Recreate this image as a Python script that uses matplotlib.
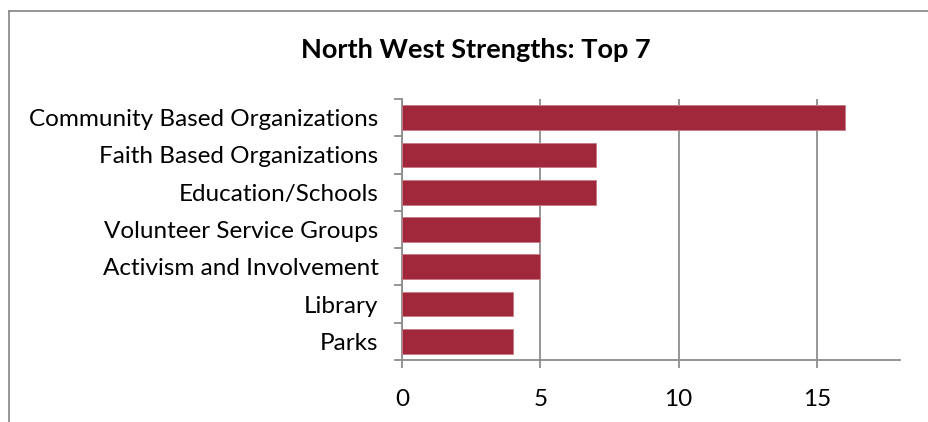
import matplotlib.pyplot as plt
from matplotlib.lines import Line2D

categories = ["Community Based Organizations", "Faith Based Organizations",
              "Education/Schools", "Volunteer Service Groups",
              "Activism and Involvement", "Library", "Parks"]
counts = [16, 7, 7, 5, 5, 4, 4]
xticks = [0, 5, 10, 15]

plt.rcParams['font.family'] = ['Lato', 'DejaVu Sans']

W, H = 929, 422
fig = plt.figure(figsize=(W / 100, H / 100), dpi=100)
ax = fig.add_axes([402 / W, 1 - 360 / H, (900 - 402) / W, (360 - 99) / H])

grey = '#8c8c8c'
ypos = list(range(len(categories)))[::-1]
ax.barh(ypos, counts, height=0.66, color='#A0283A', edgecolor='#c67b86',
        linewidth=0.6, zorder=3)

ax.set_xlim(0, 18)
ax.set_ylim(-0.5, len(categories) - 0.5)
ax.set_xticks(xticks)
ax.set_xticklabels([str(t) for t in xticks], fontsize=17.5)
ax.set_yticks(ypos)
ax.set_yticklabels(categories, fontsize=17.5)
ax.set_yticks([y - 0.5 for y in range(len(categories) + 1)], minor=True)

ax.xaxis.grid(True, color=grey, linewidth=1.3, zorder=0)
ax.tick_params(axis='y', which='major', length=0, pad=17)
ax.tick_params(axis='y', which='minor', length=6, width=1.3, color=grey)
ax.tick_params(axis='x', length=6, width=1.3, color=grey, pad=15)

for side in ['top', 'right']:
    ax.spines[side].set_visible(False)
for side in ['left', 'bottom']:
    ax.spines[side].set_color(grey)
    ax.spines[side].set_linewidth(1.3)

fig.text(476 / W, 1 - 50 / H, "North West Strengths: Top 7", ha='center',
         va='center', fontsize=19.5, fontweight='bold')

# outer chart border (cropped: left and top only)
fig.add_artist(Line2D([8.5 / W, 8.5 / W], [0, 1 - 10.5 / H], color=grey,
                      linewidth=1.3, transform=fig.transFigure))
fig.add_artist(Line2D([8.5 / W, 1], [1 - 10.5 / H, 1 - 10.5 / H], color=grey,
                      linewidth=1.3, transform=fig.transFigure))

fig.savefig('out.png', dpi=100, facecolor='white')
